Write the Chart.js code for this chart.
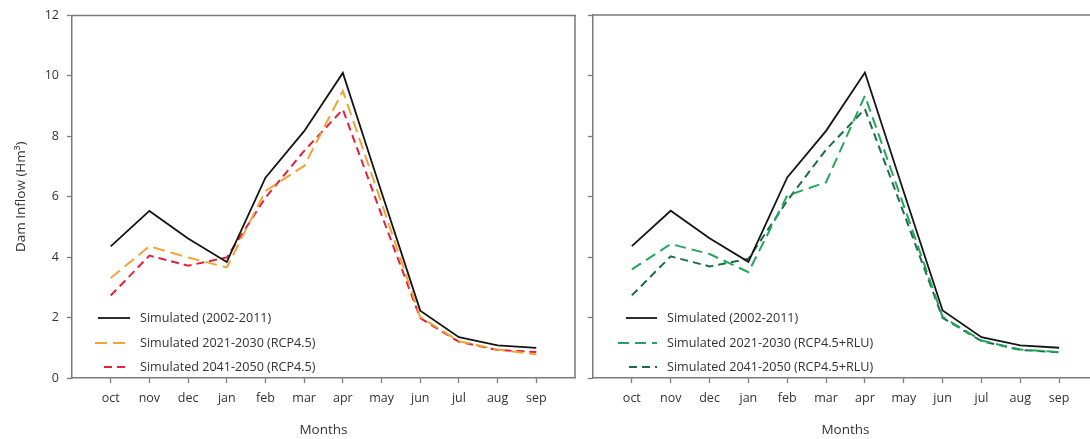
<!DOCTYPE html>
<html>
<head>
<meta charset="utf-8">
<script src="https://cdn.jsdelivr.net/npm/chart.js@4.4.1/dist/chart.umd.min.js"></script>
<style>
  html, body { margin: 0; padding: 0; background: #fff; overflow: hidden; width: 1090px; height: 439px; }
  canvas { position: absolute; top: 0; }
  #c1 { left: 0; }
  #c2 { left: 521px; }
</style>
</head>
<body>
<canvas id="c1" width="590" height="439"></canvas>
<canvas id="c2" width="590" height="439"></canvas>
<script>
// Monthly dam inflow (Hm³), hydrological year oct–sep
const months = ['oct', 'nov', 'dec', 'jan', 'feb', 'mar', 'apr', 'may', 'jun', 'jul', 'aug', 'sep'];
const yTicks = [0, 2, 4, 6, 8, 10, 12];

const simBaseline = [4.36, 5.53, 4.62, 3.84, 6.63, 8.17, 10.10, 6.15, 2.23, 1.35, 1.08, 1.00];
const simRcp2021  = [3.31, 4.36, 3.99, 3.66, 6.19, 7.02, 9.50, 5.80, 2.02, 1.22, 0.94, 0.78];
const simRcp2041  = [2.73, 4.05, 3.72, 3.99, 5.97, 7.52, 8.89, 5.40, 1.98, 1.20, 0.93, 0.86];
const simRlu2021  = [3.59, 4.43, 4.10, 3.50, 6.03, 6.47, 9.33, 5.70, 2.02, 1.24, 0.94, 0.86];
const simRlu2041  = [2.73, 4.02, 3.69, 3.94, 5.86, 7.55, 8.89, 5.45, 1.99, 1.22, 0.93, 0.85];

const labelBaseline = 'Simulated (2002-2011)';
const labelRcp2021 = 'Simulated 2021-2030 (RCP4.5)';
const labelRcp2041 = 'Simulated 2041-2050 (RCP4.5)';
const labelRlu2021 = 'Simulated 2021-2030 (RCP4.5+RLU)';
const labelRlu2041 = 'Simulated 2041-2050 (RCP4.5+RLU)';

const FONT = '"Open Sans", "DejaVu Sans", sans-serif';
const AXIS_COLOR = '#7a7a7a';
const TEXT_COLOR = '#333333';

// months sit at x = 1..12 on a 0..13 linear axis
const toPoints = vals => vals.map((v, i) => ({ x: i + 1, y: v }));

function series(label, vals, color, dash, width) {
  return {
    label, data: toPoints(vals),
    borderColor: color, backgroundColor: color,
    borderWidth: width, borderDash: dash,
    pointRadius: 0, tension: 0, fill: false
  };
}

// frame lines (top, optional right) and the in-plot legend
const framePlugin = {
  id: 'frameAndLegend',
  afterDatasetsDraw(chart, args, opts) {
    const { ctx, chartArea: a } = chart;
    ctx.save();
    ctx.strokeStyle = AXIS_COLOR;
    ctx.lineWidth = 1.5;
    ctx.beginPath();
    ctx.moveTo(a.left, a.top);
    ctx.lineTo(a.right + 1, a.top);
    if (opts.rightBorder) {
      ctx.moveTo(a.right, a.top);
      ctx.lineTo(a.right, a.bottom);
    }
    ctx.stroke();

    const lg = opts.legend;
    ctx.font = '12.6px ' + FONT;
    ctx.textBaseline = 'middle';
    ctx.textAlign = 'left';
    chart.data.datasets.forEach((ds, i) => {
      const y = a.bottom + lg.rows[i];
      ctx.strokeStyle = ds.borderColor;
      ctx.lineWidth = ds.borderWidth;
      ctx.setLineDash(ds.borderDash || []);
      ctx.beginPath();
      ctx.moveTo(a.left + lg.lineStart[i], y);
      ctx.lineTo(a.left + lg.lineEnd, y);
      ctx.stroke();
      ctx.setLineDash([]);
      ctx.fillStyle = TEXT_COLOR;
      ctx.fillText(ds.label, a.left + lg.textX, y);
    });
    ctx.restore();
  }
};

function makePanel(canvasId, datasets, cfg) {
  return new Chart(document.getElementById(canvasId), {
    type: 'line',
    data: { datasets },
    plugins: [framePlugin],
    options: {
      responsive: false,
      animation: false,
      devicePixelRatio: 1,
      layout: { padding: { top: 15, right: cfg.padRight, bottom: 0, left: 0 } },
      plugins: {
        legend: { display: false },
        tooltip: { enabled: false },
        frameAndLegend: { rightBorder: cfg.rightBorder, legend: cfg.legend }
      },
      scales: {
        x: {
          type: 'linear', min: 0, max: 13,
          afterBuildTicks: s => { s.ticks = s.ticks.filter(t => t.value >= 1 && t.value <= 12); },
          afterFit: s => { s.height = 61; },
          ticks: {
            stepSize: 1, autoSkip: false, maxRotation: 0, padding: 8,
            color: TEXT_COLOR, font: { family: FONT, size: 12.5 },
            callback: v => months[v - 1]
          },
          grid: { drawOnChartArea: false, drawTicks: true, tickLength: 5, color: AXIS_COLOR, tickWidth: 1.3 },
          border: { display: true, color: AXIS_COLOR, width: 1.5 },
          title: { display: true, text: 'Months', color: TEXT_COLOR, font: { family: FONT, size: 13.5 }, padding: { top: 0, bottom: 1 } }
        },
        y: {
          type: 'linear', min: 0, max: 12,
          afterBuildTicks: s => { s.ticks = yTicks.map(v => ({ value: v })); },
          afterFit: s => { s.width = 72; },
          ticks: {
            display: cfg.yLabels, padding: 8,
            color: TEXT_COLOR, font: { family: FONT, size: 12.5 }
          },
          grid: { drawOnChartArea: false, drawTicks: true, tickLength: 5, color: AXIS_COLOR, tickWidth: 1.3 },
          border: { display: true, color: AXIS_COLOR, width: 1.5 },
          title: { display: cfg.yLabels, text: 'Dam Inflow (Hm³)', color: TEXT_COLOR, font: { family: FONT, size: 13.5 }, padding: { top: 13, bottom: 0 } }
        }
      }
    }
  });
}

makePanel('c1', [
  series(labelBaseline, simBaseline, '#151515', [], 1.8),
  series(labelRcp2021, simRcp2021, '#f2a334', [12, 6], 2),
  series(labelRcp2041, simRcp2041, '#e3213d', [8, 5], 2)
], {
  padRight: 15, rightBorder: true, yLabels: true,
  legend: { rows: [-60, -35, -11], lineStart: [26, 23, 32], lineEnd: 58, textX: 68 }
});

makePanel('c2', [
  series(labelBaseline, simBaseline, '#151515', [], 1.8),
  series(labelRlu2021, simRlu2021, '#23a65c', [11, 6], 2),
  series(labelRlu2041, simRlu2041, '#1b6d47', [8, 5], 2)
], {
  padRight: 13, rightBorder: false, yLabels: false,
  legend: { rows: [-60, -35, -11], lineStart: [33, 25, 36], lineEnd: 64, textX: 74 }
});
</script>
</body>
</html>
